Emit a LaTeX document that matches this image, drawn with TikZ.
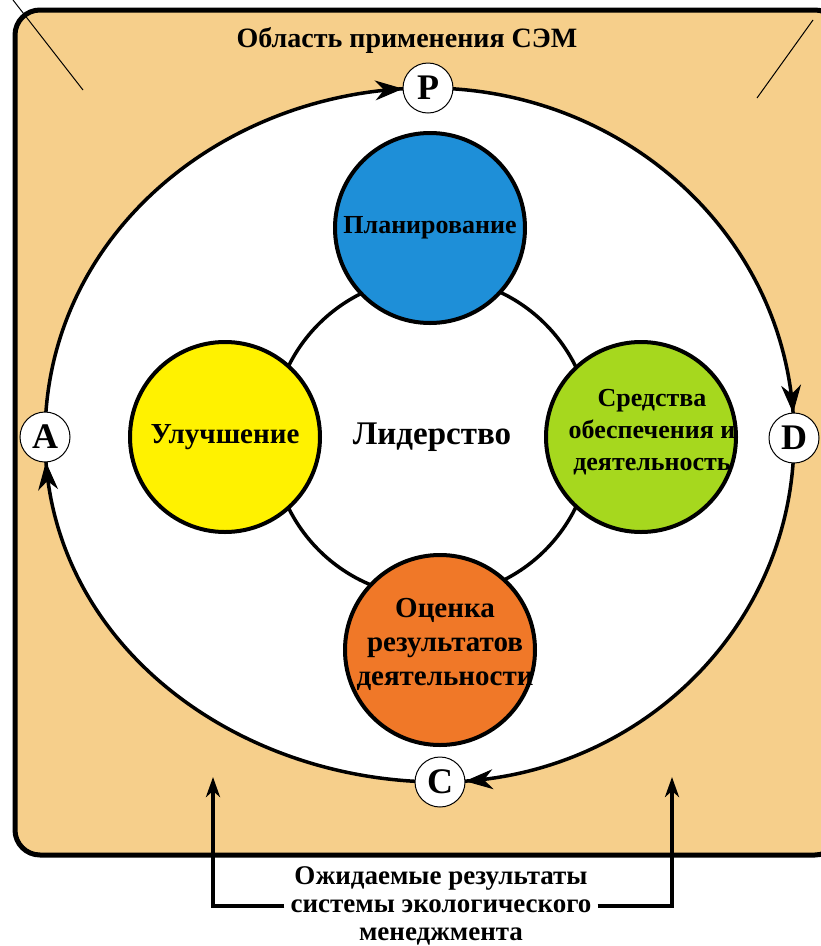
\documentclass[tikz,border=0pt]{standalone}
\usepackage{fontspec}
\setmainfont{Liberation Serif}
\usetikzlibrary{arrows.meta, backgrounds, decorations.markings}
\definecolor{areatan}{HTML}{F6CF8B}
\definecolor{planblue}{HTML}{1E8FD8}
\definecolor{actyellow}{HTML}{FFF200}
\definecolor{dogreen}{HTML}{A6D81E}
\definecolor{checkorange}{HTML}{F07828}

\begin{document}
\begin{tikzpicture}[x=1pt, y=1pt,
  phase/.style={circle, draw, line width=4pt, minimum size=190pt, inner sep=0pt, align=center, font=\fontsize{26}{32}\selectfont\bfseries},
  letter/.style={circle, draw, line width=1pt, fill=white, minimum size=50pt, inner sep=0pt, font=\fontsize{36}{36}\selectfont\bfseries},
  cyclearrow/.style={line width=3.5pt, postaction={decorate},
    decoration={markings, mark=at position -25pt with {\arrow[line width=1pt]{Stealth[length=28pt, width=20pt, inset=9pt]}}}},
  outarrow/.style={line width=4pt, -{Stealth[length=20pt, width=14pt, inset=6pt]}}]
\useasboundingbox (0,0) rectangle (821,-946);

% Letters of the cycle
\node[letter] (P) at (428,-88) {P};
\node[letter] (D) at (794,-438) {D};
\node[letter] (C) at (440,-782) {C};
\node[letter] (A) at (45,-437) {A};

% Leadership ring and the four phases
\node[circle, draw, line width=3.5pt, fill=white, minimum size=320pt, font=\fontsize{33}{33}\selectfont\bfseries] (lead) at (432,-437) {Лидерство};
\node[phase, fill=planblue] (plan) at (430,-228) {Планирование};
\node[phase, fill=actyellow, font=\fontsize{29}{32}\selectfont\bfseries] (improve) at (225,-437) {Улучшение};
\node[phase, fill=dogreen] (support) at (641,-437) {};
\node[align=center, font=\fontsize{26}{32}\selectfont\bfseries] (supporttext) at (652,-432) {Средства\\обеспечения и\\деятельность};
\node[phase, fill=checkorange] (check) at (440,-650) {};
\node[align=center, font=\fontsize{29}{34}\selectfont\bfseries] (checktext) at (445,-644) {Оценка\\результатов\\деятельности};

% Titles
\node[font=\fontsize{28}{28}\selectfont\bfseries] (scope) at (407,-40) {Область применения СЭМ};
\node[align=center, inner sep=6pt, font=\fontsize{27}{28}\selectfont\bfseries] (result) at (441,-906) {Ожидаемые результаты\\системы экологического\\менеджмента};

\coordinate (leftin) at (213,-777);
\coordinate (rightin) at (672,-777);
\draw[outarrow] (result.west) -| (leftin);
\draw[outarrow] (result.east) -| (rightin);

\begin{scope}[on background layer]
\draw[line width=5pt, fill=areatan, rounded corners=25pt] (15,-10) rectangle (840,-855);
\draw[line width=1pt] (13,0) -- (83,-90);
\draw[line width=1pt] (813,-20) -- (757,-98);
\fill[white] (A.center) to[out=90,in=180] (P.center) to[out=0,in=90] (D.center)
  to[out=-90,in=0] (C.center) to[out=180,in=-90] (A.center) -- cycle;
\draw[cyclearrow] (A.center) to[out=90,in=180] (P.center);
\draw[cyclearrow] (P.center) to[out=0,in=90] (D.center);
\draw[cyclearrow] (D.center) to[out=-90,in=0] (C.center);
\draw[cyclearrow] (C.center) to[out=180,in=-90] (A.center);
\end{scope}
\end{tikzpicture}
\end{document}
